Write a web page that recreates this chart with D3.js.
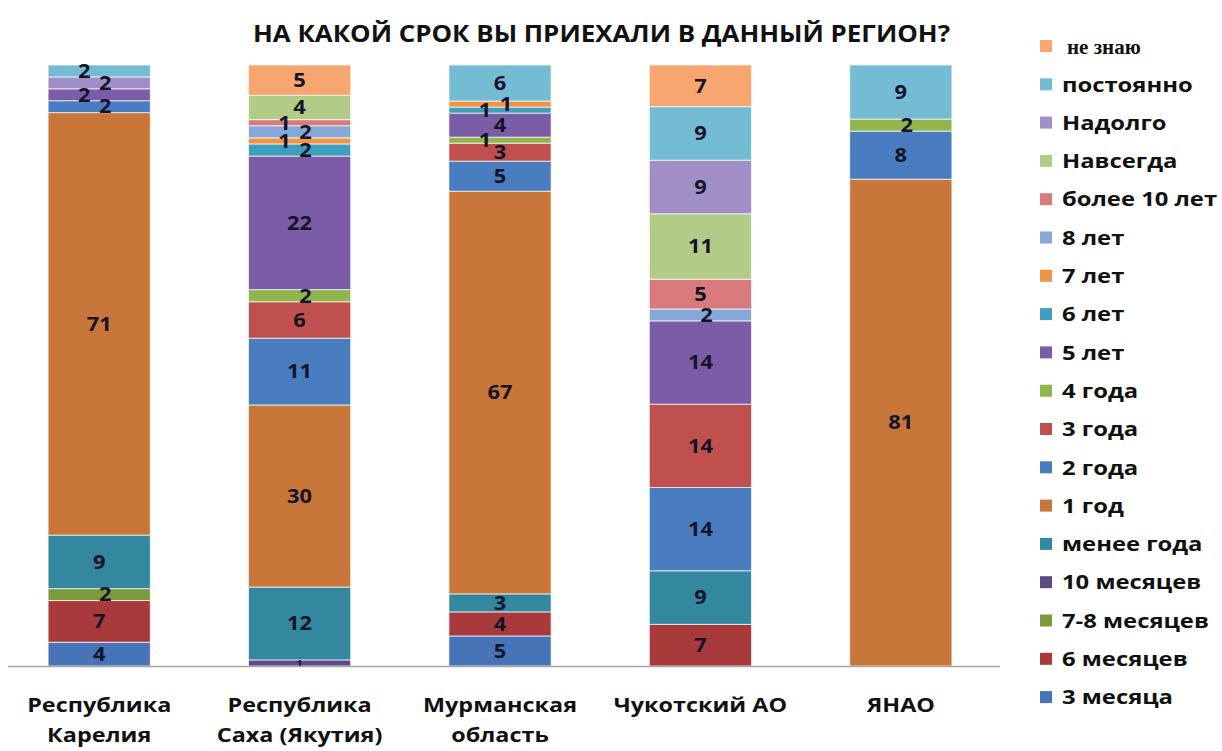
<!DOCTYPE html>
<html>
<head>
<meta charset="utf-8">
<script src="https://cdn.jsdelivr.net/npm/d3@7"></script>
<style>
  body { margin: 0; background: #fff; }
  svg text { font-family: "Open Sans", "DejaVu Sans", sans-serif; font-weight: bold; }
</style>
</head>
<body>
<div id="plot"></div>
<script>
// chart data
var title = 'НА КАКОЙ СРОК ВЫ ПРИЕХАЛИ В ДАННЫЙ РЕГИОН?';
var regions = ['Республика Карелия', 'Республика Саха (Якутия)', 'Мурманская область', 'Чукотский АО', 'ЯНАО'];
var regionLines = [['Республика', 'Карелия'], ['Республика', 'Саха (Якутия)'], ['Мурманская', 'область'], ['Чукотский АО'], ['ЯНАО']];

// series from bottom of the stack to the top
var series = ['3 месяца', '6 месяцев', '7-8 месяцев', '10 месяцев', 'менее года', '1 год', '2 года', '3 года',
  '4 года', '5 лет', '6 лет', '7 лет', '8 лет', 'более 10 лет', 'Навсегда', 'Надолго', 'постоянно', 'не знаю'];
var colors = ['#4674b6', '#a83a3c', '#7a9a3c', '#5e4a86', '#33879e', '#c8763a', '#4a7cc0', '#c0504d',
  '#8fb54c', '#7b5ca6', '#3e9fbc', '#f29445', '#86a8d8', '#d8797c', '#b2cc88', '#a08ec6', '#74bcd4', '#f8a670'];

// one row per region, same order as series
var karelia   = [4, 7, 2, 0, 9, 71, 2, 0, 0, 2, 0, 0, 0, 0, 0, 2, 2, 0];
var yakutia   = [0, 0, 0, 1, 12, 30, 11, 6, 2, 22, 2, 1, 2, 1, 4, 0, 0, 5];
var murmansk  = [5, 4, 0, 0, 3, 67, 5, 3, 1, 4, 1, 1, 0, 0, 0, 0, 6, 0];
var chukotka  = [0, 7, 0, 0, 9, 0, 14, 14, 0, 14, 0, 0, 2, 5, 11, 9, 9, 7];
var yanao     = [0, 0, 0, 0, 0, 81, 8, 0, 2, 0, 0, 0, 0, 0, 0, 0, 9, 0];
var values = [karelia, yakutia, murmansk, chukotka, yanao];

var W = 1222, H = 751;
var svg = d3.select('#plot').append('svg').attr('width', W).attr('height', H);

// text that is a bit wider than the font draws it, like the picture
function label(parent, tx, ty, str, size, sx) {
  return parent.append('text')
    .attr('transform', 'translate(' + tx + ',' + ty + ') scale(' + sx + ',1)')
    .attr('dy', '0.36em')
    .style('font-size', size + 'px')
    .text(str);
}

var table = regions.map(function(r, i) {
  var row = {region: r};
  series.forEach(function(s, j) { row[s] = values[i][j]; });
  return row;
});

var stack = d3.stack().keys(series).offset(d3.stackOffsetExpand);
var layers = stack(table);

var x = d3.scaleBand().domain(regions).range([0, 1000]).paddingInner(0.49).paddingOuter(0.24);
var y = d3.scaleLinear().domain([0, 1]).range([666, 65]);
var color = d3.scaleOrdinal().domain(series).range(colors);

// title
svg.append('text')
  .attr('x', 253).attr('y', 42)
  .attr('textLength', 697).attr('lengthAdjust', 'spacingAndGlyphs')
  .style('font-size', '24px').style('fill', '#111')
  .text(title);

// bars
var g = svg.append('g');
layers.forEach(function(layer) {
  g.selectAll(null)
    .data(layer.filter(function(d) { return d[1] - d[0] > 0; }))
    .enter().append('rect')
    .attr('x', function(d) { return x(d.data.region); })
    .attr('width', x.bandwidth())
    .attr('y', function(d) { return y(d[1]); })
    .attr('height', function(d) { return y(d[0]) - y(d[1]); })
    .style('fill', color(layer.key))
    .style('stroke', '#fff').style('stroke-width', 1).style('stroke-opacity', 0.7);
});

// axis baseline
svg.append('line').attr('x1', 8).attr('x2', 1000).attr('y1', 666.5).attr('y2', 666.5)
  .style('stroke', '#a6a6a6').style('stroke-width', 1.5);

// value labels; runs of tiny segments zig-zag left/right so they stay readable
regions.forEach(function(r, i) {
  var side = 0;
  layers.forEach(function(layer) {
    var d = layer[i];
    var v = d.data[layer.key];
    if (!v) return;
    var cx = x(r) + x.bandwidth() / 2;
    var cy = (y(d[0]) + y(d[1])) / 2;
    var size = 19, dx = 0;
    if (v <= 2) {
      if (side === 0) side = (v === 1) ? -1 : 1;
      else side = -side;
      dx = side > 0 ? 6 : -15;
    } else {
      side = 0;
    }
    if (d[0] === 0 && y(d[0]) - y(d[1]) < 8) { size = 8; dx = 0; }
    label(svg, cx + dx, cy, v, size, 1.15)
      .attr('text-anchor', 'middle')
      .style('fill', '#141428');
  });
});

// category labels
regionLines.forEach(function(lines, i) {
  lines.forEach(function(l, k) {
    label(svg, x(regions[i]) + x.bandwidth() / 2, 705 + k * 30, l, 20, 1.17)
      .attr('text-anchor', 'middle')
      .style('fill', '#111');
  });
});

// legend, top entry is the last series
var legendItems = series.slice().reverse();
var lg = svg.append('g');
legendItems.forEach(function(s, k) {
  var ly = 46 + k * 38.3;
  lg.append('rect').attr('x', 1040).attr('y', ly - 6).attr('width', 12).attr('height', 12)
    .style('fill', color(s));
  var t = label(lg, s === 'не знаю' ? 1067 : 1062, ly, s, s === 'не знаю' ? 21 : 20, s === 'не знаю' ? 1.0 : 1.19)
    .style('fill', '#111');
  if (s === 'не знаю') t.style('font-family', '"Liberation Serif", serif');
});
</script>
</body>
</html>
